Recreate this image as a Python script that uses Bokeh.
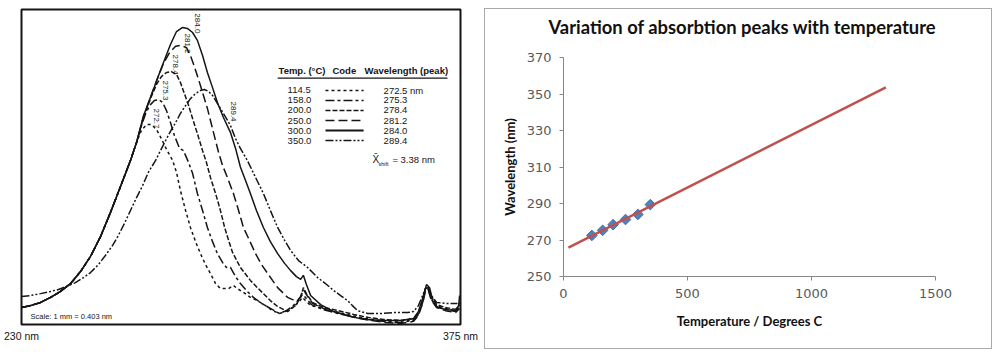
import numpy as np
from bokeh.plotting import figure
from bokeh.models import Range1d, Label, FixedTicker, Spacer, Title
from bokeh.layouts import row, column
from bokeh.embed import file_html
from bokeh.resources import INLINE
from bokeh.core.properties import value

# ---------------- data ----------------
temps_c = [114.5, 158.0, 200.0, 250.0, 300.0, 350.0]
peak_nm = [272.5, 275.3, 278.4, 281.2, 284.0, 289.4]
peak_marks = ["272.7", "275.3", "278.4", "281.2", "284.0", "289.4"]
trend_span = [20, 1300]
spectrum_limits = [230, 375]

# shared rising flank of the 114.5 - 300 C spectra (nm, relative absorbance)
flank_nm = [230.0, 233.0, 236.3, 239.6, 242.9, 246.2, 249.5, 252.8, 256.1, 259.4, 262.7, 266.0]
flank_abs = [5.4, 6.0, 7.0, 8.6, 10.5, 13.0, 16.8, 21.6, 27.9, 35.6, 43.8, 52.1]

c114_nm = [268.0, 269.6, 271.3, 272.9, 274.6, 276.2, 277.9, 279.9, 281.2, 282.5,
           284.2, 285.8, 287.5, 289.1, 290.8, 292.4, 294.1, 295.7, 298.4, 300.0,
           301.3, 303.3, 305.6, 307.9, 310.6, 312.9, 315.2, 317.2, 319.5, 321.5,
           322.8, 323.8, 325.5, 328.8, 333.7, 338.7, 343.6, 348.6, 355.2, 359.5,
           361.1, 362.5, 363.4, 364.4, 365.4, 367.1, 370.0, 373.4, 374.7]
c114_abs = [57.8, 61.6, 63.5, 63.5, 61.9, 59.0, 55.6, 52.1, 48.3, 42.5,
            36.2, 30.8, 26.3, 22.5, 19.0, 16.2, 13.0, 11.4, 11.4, 12.4,
            11.4, 10.2, 8.6, 7.6, 6.0, 4.4, 3.5, 4.1, 5.4, 7.0,
            8.6, 7.6, 6.0, 5.4, 4.1, 2.9, 1.9, 1.3, 1.0, 1.6,
            3.5, 7.6, 11.4, 11.7, 8.6, 6.0, 5.1, 4.4, 7.0]

c158_nm = [268.0, 269.3, 271.0, 272.6, 273.9, 275.3, 276.6, 277.9, 279.2, 280.5,
           282.2, 283.5, 285.2, 286.5, 288.1, 289.8, 291.4, 293.1, 294.7, 296.4,
           297.7, 299.0, 300.7, 302.3, 304.6, 306.6, 309.3, 312.2, 315.2, 317.5,
           319.8, 321.5, 322.8, 323.8, 325.8, 329.4, 334.4, 339.3, 344.3, 349.2,
           355.2, 359.5, 361.1, 362.5, 363.4, 364.4, 365.4, 367.1, 370.0, 373.4, 374.7]
c158_abs = [57.8, 62.2, 67.0, 69.8, 71.1, 71.4, 70.5, 67.9, 64.1, 60.0,
            55.9, 55.2, 51.4, 48.0, 41.6, 36.2, 30.8, 26.3, 22.5, 19.7,
            18.1, 18.1, 15.2, 13.0, 10.5, 8.6, 6.7, 5.1, 3.5, 4.4,
            6.0, 7.9, 9.5, 8.6, 6.3, 4.8, 3.5, 2.5, 1.6, 1.0,
            0.6, 1.3, 3.2, 7.0, 10.8, 11.1, 7.9, 5.7, 4.8, 4.1, 5.7]

c200_nm = [268.0, 270.3, 272.6, 274.6, 276.2, 277.9, 279.5, 281.2, 282.5, 283.8,
           285.2, 286.5, 288.1, 289.8, 291.1, 292.4, 294.1, 295.7, 297.1, 298.4,
           299.7, 302.3, 305.6, 307.9, 309.9, 312.2, 314.6, 317.9, 320.5, 322.2,
           323.1, 324.1, 326.1, 329.8, 334.7, 339.7, 344.6, 349.6, 355.2, 359.5,
           361.1, 362.5, 363.4, 364.4, 365.4, 367.1, 370.0, 373.4, 374.7]
c200_abs = [57.8, 65.7, 71.7, 76.2, 78.7, 80.0, 80.3, 79.4, 76.8, 73.3,
            69.5, 65.4, 60.6, 55.2, 51.4, 46.7, 41.6, 36.2, 30.8, 26.7,
            22.9, 18.1, 14.0, 11.7, 9.8, 7.6, 5.7, 4.1, 6.0, 8.6,
            11.7, 9.8, 7.0, 5.4, 4.4, 3.2, 2.2, 1.6, 1.3, 1.9,
            3.8, 7.6, 11.4, 11.7, 8.9, 6.3, 5.4, 4.8, 6.3]

c250_nm = [268.0, 270.3, 272.6, 274.9, 276.9, 278.9, 280.9, 282.5, 284.5, 285.8,
           287.1, 289.1, 291.4, 293.4, 295.1, 296.4, 298.0, 300.0, 301.7, 303.3,
           305.3, 307.3, 309.3, 311.3, 312.9, 314.6, 316.2, 317.9, 319.5, 321.2,
           322.2, 323.1, 324.1, 326.1, 330.4, 335.4, 340.3, 345.3, 350.2, 355.2,
           359.5, 361.1, 362.5, 363.4, 364.4, 365.4, 367.1, 370.0, 373.4, 374.7]
c250_abs = [57.8, 66.0, 72.1, 78.1, 82.9, 86.3, 88.3, 88.6, 87.9, 85.4,
            81.9, 75.9, 68.6, 61.0, 54.6, 50.5, 46.7, 41.6, 36.2, 30.8,
            26.7, 22.5, 19.0, 16.2, 14.0, 11.7, 10.2, 8.6, 7.9, 7.6,
            8.9, 11.1, 9.5, 6.7, 4.8, 3.5, 2.2, 1.3, 0.6, 0.3,
            1.0, 2.9, 6.7, 10.5, 10.8, 7.6, 5.4, 4.4, 3.8, 5.1]

c300_nm = [268.0, 270.3, 272.6, 274.9, 276.9, 279.2, 281.2, 283.2, 284.8, 286.5,
           288.1, 289.8, 291.4, 293.1, 294.7, 296.7, 299.0, 300.7, 302.3, 304.0,
           305.6, 307.6, 309.9, 312.2, 314.6, 316.9, 318.9, 320.8, 322.2, 323.1,
           324.1, 325.5, 328.8, 333.1, 338.7, 343.6, 349.6, 355.2, 359.5, 361.1,
           362.5, 363.8, 364.8, 365.8, 367.4, 370.0, 373.4, 374.4, 374.7]
c300_abs = [57.8, 66.3, 72.1, 78.1, 83.2, 88.9, 93.0, 94.3, 94.0, 92.7,
            90.2, 85.4, 80.0, 75.2, 70.5, 65.7, 61.0, 55.9, 50.0, 45.7,
            41.6, 36.2, 30.8, 26.3, 22.5, 19.4, 17.1, 15.2, 14.3, 15.6,
            12.7, 9.2, 6.3, 4.1, 2.5, 1.6, 1.3, 1.3, 1.9, 4.1,
            8.3, 12.7, 11.7, 7.6, 5.4, 4.8, 4.4, 6.0, 9.2]

c350_nm = [230.0, 233.0, 236.3, 239.6, 242.2, 244.9, 247.8, 250.5, 252.8, 255.4,
           257.7, 260.1, 262.0, 264.0, 266.0, 268.0, 270.0, 271.9, 274.3, 275.9,
           277.6, 279.2, 280.9, 282.5, 284.2, 285.8, 287.5, 289.1, 290.4, 291.8,
           293.1, 294.7, 296.7, 299.0, 300.7, 302.3, 304.6, 307.3, 309.9, 312.2,
           314.6, 316.9, 318.9, 321.5, 324.5, 327.8, 330.4, 333.1, 335.4, 337.7,
           339.3, 341.0, 344.3, 348.6, 353.5, 357.5, 359.5, 361.1, 362.5, 363.4,
           364.4, 365.4, 367.1, 370.0, 374.0]
c350_abs = [8.9, 9.2, 9.8, 10.5, 11.1, 12.1, 13.3, 14.9, 16.5, 19.0,
            21.9, 25.1, 28.3, 32.1, 36.2, 40.3, 44.1, 48.3, 52.1, 55.2,
            58.4, 61.3, 64.1, 67.0, 69.5, 71.7, 73.3, 74.3, 74.6, 74.0,
            72.7, 70.2, 67.0, 63.2, 59.0, 55.9, 52.1, 46.7, 41.6, 36.2,
            30.8, 26.7, 23.5, 20.3, 18.1, 14.9, 13.0, 10.8, 9.2, 7.6,
            6.0, 4.4, 3.5, 3.5, 3.8, 3.8, 4.1, 6.0, 9.2, 11.4,
            11.7, 9.2, 7.0, 6.7, 6.7]

# ---------------- styles ----------------
FONT = value("Liberation Sans")
INK = "#151515"
dashes = ["3 3", "9 3 3 3", "5 2", "9 4", "solid", "8 2 2 2 2 2"]

# ---------------- left panel: spectra ----------------
left = figure(width=484, height=349,
              x_range=Range1d(*spectrum_limits), y_range=Range1d(0, 100),
              x_axis_location="below", y_axis_location=None,
              output_backend="svg", toolbar_location=None,
              min_border_left=21, min_border_right=24, min_border_top=9, min_border_bottom=25)
left.grid.visible = False
left.outline_line_color = INK
left.outline_line_width = 2
left.background_fill_color = "white"

lx = left.xaxis[0]
lx.ticker = FixedTicker(ticks=spectrum_limits)
lx.major_label_overrides = {v: f"{v} nm" for v in spectrum_limits}
lx.axis_line_color = None
lx.major_tick_line_color = None
lx.minor_tick_line_color = None
lx.major_tick_out = 0
lx.major_label_standoff = 5
lx.major_label_text_font = "Liberation Sans"
lx.major_label_text_font_size = "10.5px"
lx.major_label_text_color = INK

curves = [
    (flank_nm + c114_nm, flank_abs + c114_abs),
    (flank_nm + c158_nm, flank_abs + c158_abs),
    (flank_nm + c200_nm, flank_abs + c200_abs),
    (flank_nm + c250_nm, flank_abs + c250_abs),
    (flank_nm + c300_nm, flank_abs + c300_abs),
    (c350_nm, c350_abs),
]
for (xs, ys), d in zip(curves, dashes):
    left.line(xs, ys, line_color=INK, line_width=1.5, line_dash=d)

# peak value labels (rotated)
peak_lab_x = [274.6, 277.6, 280.9, 284.8, 288.1, 300.0]
peak_lab_y = [65.4, 74.3, 82.5, 89.2, 95.6, 67.6]
left.text(x=peak_lab_x, y=peak_lab_y, text=peak_marks, angle=-np.pi / 2,
          text_font=FONT, text_font_size="8px", text_color=INK,
          text_align="center", text_baseline="middle")

# legend table
hdr_y = 80.5
for tx, tt in [(314.9, "Temp. (°C)"), (332.7, "Code"), (343.3, "Wavelength (peak)")]:
    left.add_layout(Label(x=tx, y=hdr_y, text=tt, text_font="Liberation Sans",
                          text_font_size="9.5px", text_font_style="bold",
                          text_color=INK, text_baseline="middle"))
left.line([314.6, 370.7], [78.2, 78.2], line_color=INK, line_width=1.2)

row_y = [74.3 - 3.18 * i for i in range(len(temps_c))]
left.text(x=[317.9] * len(temps_c), y=row_y, text=[f"{t:.1f}" for t in temps_c],
          text_font=FONT, text_font_size="9.5px", text_color=INK, text_baseline="middle")
wl_text = [f"{w:.1f}" for w in peak_nm]
wl_text[0] = wl_text[0] + " nm"
left.text(x=[349.6] * len(peak_nm), y=row_y, text=wl_text,
          text_font=FONT, text_font_size="9.5px", text_color=INK, text_baseline="middle")
for yy, d in zip(row_y, dashes):
    left.line([330.4, 343.0], [yy, yy], line_color=INK,
              line_width=2.2 if d == "solid" else 1.6, line_dash=d)

left.add_layout(Label(x=345.9, y=52.4, text="X̄", text_font="Liberation Sans",
                      text_font_size="10px", text_color=INK, text_baseline="middle"))
left.add_layout(Label(x=347.9, y=51.0, text="shift", text_font="Liberation Sans",
                      text_font_size="5.5px", text_color=INK, text_baseline="middle"))
left.add_layout(Label(x=352.5, y=52.4, text="= 3.38 nm", text_font="Liberation Sans",
                      text_font_size="9.5px", text_color=INK, text_baseline="middle"))

left.add_layout(Label(x=233.0, y=2.4, text="Scale:  1 mm = 0.403 nm", text_font="Liberation Sans",
                      text_font_size="7.5px", text_color=INK, text_baseline="middle"))

# ---------------- right panel: peak vs temperature ----------------
right = figure(width=506, height=339, x_range=Range1d(0, 1500), y_range=Range1d(250, 370),
               output_backend="svg", toolbar_location=None, title=None,
               min_border_left=78, min_border_right=56, min_border_top=48, min_border_bottom=72)
right.grid.visible = False
right.outline_line_color = None
right.styles = {"outline": "1px solid #a9a9a9"}

# blank spacer title keeps the real title clear of the plot frame
right.add_layout(Title(text=" ", text_font_size="12px", standoff=2,
                       text_color="white"), "above")
right.add_layout(Title(text="Variation of absorbtion peaks with temperature",
                       align="left", vertical_align="top", offset=-15, standoff=0,
                       text_font="Lato", text_font_style="bold", text_font_size="18.4px",
                       text_color="#111111"), "above")

right.xaxis.ticker = FixedTicker(ticks=[0, 500, 1000, 1500])
right.yaxis.ticker = FixedTicker(ticks=list(range(250, 371, 20)))
for ax in (right.xaxis[0], right.yaxis[0]):
    ax.axis_line_color = "#868686"
    ax.major_tick_line_color = "#868686"
    ax.major_tick_out = 4
    ax.major_tick_in = 0
    ax.minor_tick_out = 0
    ax.minor_tick_in = 0
    ax.major_label_text_font = "DejaVu Sans"
    ax.major_label_text_font_size = "13px"
    ax.major_label_text_color = "#595959"
    ax.major_label_standoff = 8
    ax.axis_label_text_font = "Lato"
    ax.axis_label_text_font_style = "bold"
    ax.axis_label_text_font_size = "13px"
    ax.axis_label_text_color = "#111111"
right.xaxis.axis_label = "Temperature / Degrees C"
right.yaxis.axis_label = "Wavelength (nm)"
right.xaxis.axis_label_standoff = 12
right.yaxis.axis_label_standoff = 6

right.scatter(temps_c, peak_nm, marker="square", angle=np.pi / 4, size=7.5,
              fill_color="#4F81BD", line_color="#3F6FA8", line_width=1)

fit = np.polyfit(temps_c, peak_nm, 1)
trend_y = np.polyval(fit, trend_span)
right.line(trend_span, list(trend_y), line_color="#C0504D", line_width=2.5)

layout = row(column(left), Spacer(width=1, height=9),
             column(Spacer(width=506, height=9), right))
open("out.html", "w").write(file_html(layout, INLINE))
